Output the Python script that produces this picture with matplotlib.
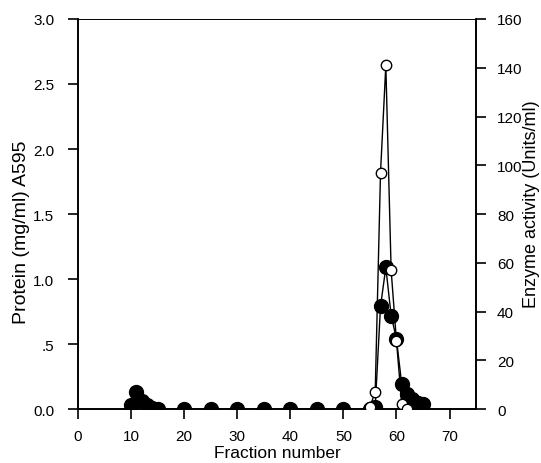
import matplotlib
matplotlib.use("Agg")
import matplotlib.pyplot as plt

plt.rcParams['font.family'] = ['Liberation Sans', 'DejaVu Sans']

# Protein (filled circles, left axis)
protein_fraction = [10, 11, 12, 13, 14, 15, 20, 25, 30, 35, 40, 45, 50, 55, 56,
                    57, 58, 59, 60, 61, 62, 63, 64, 65]
protein_value = [0.03, 0.13, 0.06, 0.03, 0.01, 0.0, 0.0, 0.0, 0.0, 0.0, 0.0, 0.0, 0.0, 0.0, 0.02,
                 0.79, 1.09, 0.72, 0.54, 0.19, 0.12, 0.08, 0.05, 0.04]

# Enzyme activity (open circles, right axis)
activity_fraction = [55, 56, 57, 58, 59, 60, 61, 62]
activity_value = [1, 7, 97, 141, 57, 28, 2, 0]

x_ticks = [0, 10, 20, 30, 40, 50, 60, 70]
left_ticks = [0.0, 0.5, 1.0, 1.5, 2.0, 2.5, 3.0]
left_labels = ["0.0", ".5", "1.0", "1.5", "2.0", "2.5", "3.0"]
right_ticks = [0, 20, 40, 60, 80, 100, 120, 140, 160]

W, H = 541, 464
fig = plt.figure(figsize=(W / 100, H / 100), dpi=100)
ax = fig.add_axes([0.144, 0.116, 0.736, 0.841])
ax.plot(protein_fraction, protein_value, color='black', lw=1.0, marker='o',
        ms=10, mfc='black', mec='black', zorder=2)
ax.set_xlim(0, 75)
ax.set_ylim(0, 3.0)
ax.set_xticks(x_ticks)
ax.set_yticks(left_ticks)
ax.set_yticklabels(left_labels)
ax.set_xlabel("Fraction number", fontsize=12.5, labelpad=2)
ax.tick_params(axis='x', direction='out', length=7, width=1.2, labelsize=11, pad=7)
ax.tick_params(axis='y', direction='out', length=7, width=1.2, labelsize=11, pad=10)

ax2 = ax.twinx()
ax2.plot(activity_fraction, activity_value, color='black', lw=1.0, marker='o',
         ms=7.5, mfc='white', mec='black', mew=1.0, zorder=3)
ax2.set_ylim(0, 160)
ax2.set_yticks(right_ticks)
ax2.tick_params(direction='out', length=7, width=1.2, labelsize=11, pad=8)

fig.text(22 / W, 1 - 232 / H, "Protein (mg/ml) A595", rotation=90,
         ha='center', va='center', fontsize=14)
fig.text(532 / W, 1 - 204 / H, "Enzyme activity (Units/ml)", rotation=90,
         ha='center', va='center', fontsize=13)

for a in (ax, ax2):
    for s in a.spines.values():
        s.set_linewidth(1.2)
ax2.spines['top'].set_linewidth(0.6)
ax.spines['top'].set_linewidth(0.6)

fig.savefig("out.png", dpi=100)
